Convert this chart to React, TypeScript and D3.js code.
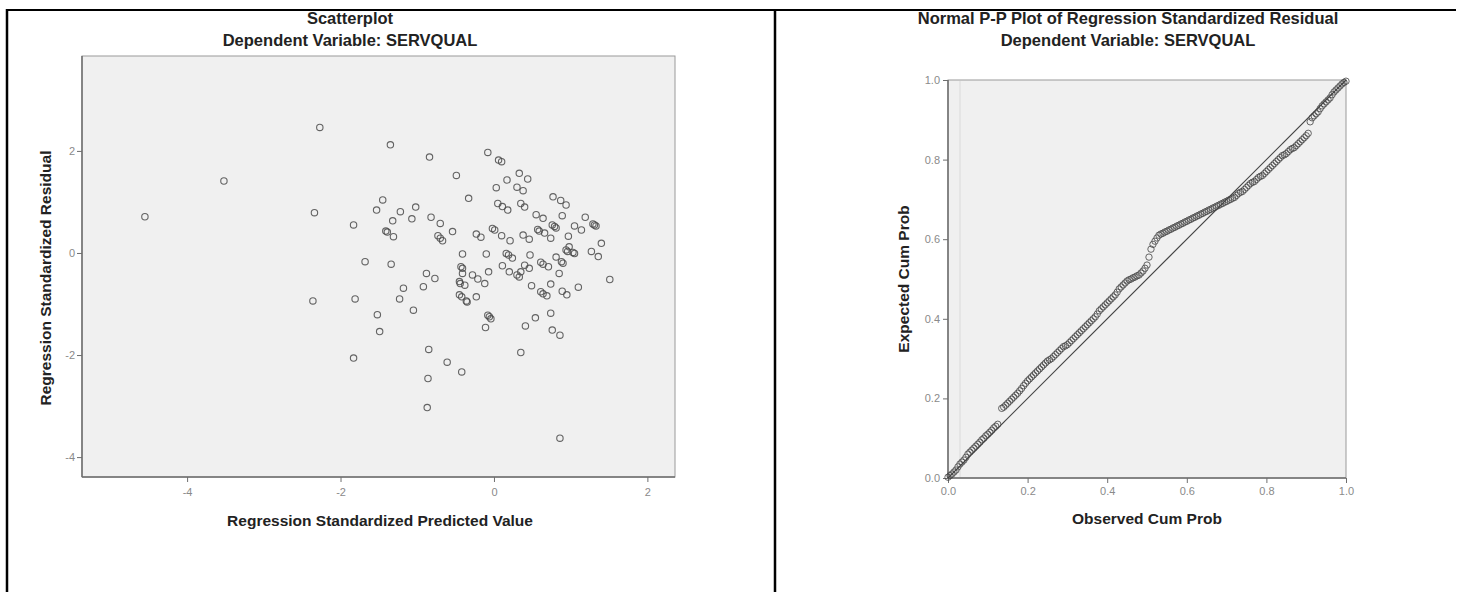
import React, { useEffect, useRef } from "react";
import * as d3 from "d3";

// Scatterplot: regression standardized predicted value vs residual
const predicted = [
  -4.55, -3.52, -2.27, -2.34, -2.36, -1.35, -1.83, -1.81, -1.83, -1.45, -1.53, -1.22, -1.32,
  -1.41, -1.39, -1.31, -1.68, -1.34, -0.84, -0.08, 0.06, 0.1, -0.49, 0.33, 0.44, 0.17, 0.03,
  0.3, 0.38, -0.33, 0.77, 0.87, 0.94, 0.05, 0.11, 0.18, 0.35, 0.4, -1.02, -1.07, -0.82, -0.7,
  -0.73, -0.67, -0.7, -0.54, -0.23, -0.17, -0.02, 0.01, 0.1, 0.21, 0.38, 0.46, 0.55, 0.64,
  0.89, 0.57, 0.59, 0.66, 0.76, 0.79, 0.81, 0.74, 0.97, 0.98, 0.94, 0.96, 1.03, 1.05, 1.05,
  1.14, 1.19, 1.29, 1.31, 1.33, 1.4, 1.27, 1.36, 1.51, -0.41, -0.1, 0.16, 0.19, 0.24, 0.47,
  0.61, 0.64, 0.71, 0.81, 0.88, 0.9, 0.85, -0.88, -0.77, -0.43, -0.41, -0.41, -0.28, -0.21,
  -0.07, 0.11, 0.2, 0.3, 0.33, 0.35, 0.4, 0.46, -0.45, -0.44, -0.38, -0.12, -1.18, -0.92,
  0.49, 0.61, 0.64, 0.69, 0.74, 0.89, 0.95, 1.1, -1.23, -1.05, -0.45, -0.42, -0.36, -0.35,
  -0.23, -1.52, -1.49, -0.08, -0.06, -0.04, -0.11, 0.74, 0.54, 0.41, 0.76, 0.86, 0.35, -0.85,
  -0.61, -0.42, -0.86, -0.87, 0.86,
];
const residual = [
  0.71, 1.41, 2.46, 0.79, -0.94, 2.12, 0.55, -0.9, -2.06, 1.04, 0.84, 0.81, 0.63, 0.43, 0.41,
  0.32, -0.17, -0.22, 1.88, 1.97, 1.82, 1.79, 1.52, 1.56, 1.45, 1.43, 1.28, 1.29, 1.22, 1.07,
  1.1, 1.03, 0.94, 0.97, 0.91, 0.84, 0.97, 0.9, 0.9, 0.67, 0.7, 0.58, 0.34, 0.24, 0.29, 0.42,
  0.37, 0.31, 0.48, 0.45, 0.34, 0.24, 0.35, 0.27, 0.75, 0.68, 0.73, 0.46, 0.43, 0.39, 0.55,
  0.52, 0.49, 0.29, 0.33, 0.12, 0.06, 0.03, 0.01, -0.01, 0.53, 0.45, 0.7, 0.57, 0.55, 0.53,
  0.19, 0.03, -0.07, -0.52, -0.02, -0.02, -0.01, -0.04, -0.1, -0.04, -0.18, -0.22, -0.27,
  -0.08, -0.17, -0.2, -0.4, -0.4, -0.5, -0.27, -0.3, -0.4, -0.43, -0.51, -0.37, -0.25, -0.37,
  -0.43, -0.47, -0.37, -0.24, -0.3, -0.56, -0.6, -0.63, -0.6, -0.69, -0.66, -0.64, -0.76,
  -0.8, -0.84, -0.61, -0.75, -0.82, -0.67, -0.9, -1.12, -0.82, -0.86, -0.94, -0.96, -0.86,
  -1.21, -1.54, -1.22, -1.25, -1.29, -1.46, -1.18, -1.27, -1.43, -1.51, -1.61, -1.95, -1.89,
  -2.14, -2.33, -2.46, -3.03, -3.63,
];

// Normal P-P plot (observed vs expected cumulative probability)
const observedCum = [
  0.0, 0.005, 0.01, 0.015, 0.02, 0.025, 0.03, 0.035, 0.04, 0.045, 0.05, 0.055, 0.06, 0.065,
  0.07, 0.075, 0.08, 0.085, 0.09, 0.095, 0.1, 0.105, 0.11, 0.115, 0.12, 0.125, 0.135, 0.14,
  0.145, 0.15, 0.155, 0.16, 0.165, 0.17, 0.175, 0.18, 0.185, 0.19, 0.195, 0.2, 0.205, 0.21,
  0.215, 0.22, 0.225, 0.23, 0.235, 0.24, 0.245, 0.25, 0.255, 0.26, 0.265, 0.27, 0.275, 0.28,
  0.285, 0.29, 0.295, 0.3, 0.305, 0.31, 0.315, 0.32, 0.325, 0.33, 0.335, 0.34, 0.345, 0.35,
  0.355, 0.36, 0.365, 0.37, 0.375, 0.38, 0.385, 0.39, 0.395, 0.4, 0.405, 0.41, 0.415, 0.42,
  0.425, 0.43, 0.435, 0.44, 0.445, 0.45, 0.455, 0.46, 0.465, 0.47, 0.475, 0.48, 0.485, 0.49,
  0.495, 0.5, 0.505, 0.51, 0.515, 0.52, 0.525, 0.53, 0.535, 0.54, 0.545, 0.55, 0.555, 0.56,
  0.565, 0.57, 0.575, 0.58, 0.585, 0.59, 0.595, 0.6, 0.605, 0.61, 0.615, 0.62, 0.625, 0.63,
  0.635, 0.64, 0.645, 0.65, 0.655, 0.66, 0.665, 0.67, 0.675, 0.68, 0.685, 0.69, 0.695, 0.7,
  0.705, 0.71, 0.715, 0.72, 0.725, 0.73, 0.735, 0.74, 0.745, 0.75, 0.755, 0.76, 0.765, 0.77,
  0.775, 0.78, 0.785, 0.79, 0.795, 0.8, 0.805, 0.81, 0.815, 0.82, 0.825, 0.83, 0.835, 0.84,
  0.845, 0.85, 0.855, 0.86, 0.865, 0.87, 0.875, 0.88, 0.885, 0.89, 0.895, 0.9, 0.905, 0.91,
  0.915, 0.92, 0.925, 0.93, 0.935, 0.94, 0.945, 0.95, 0.955, 0.96, 0.965, 0.97, 0.975, 0.98,
  0.985, 0.99, 0.995, 1.0,
];
const expectedCum = [
  0.002, 0.006, 0.01, 0.015, 0.02, 0.028, 0.035, 0.04, 0.045, 0.052, 0.06, 0.065, 0.07, 0.075,
  0.08, 0.085, 0.09, 0.096, 0.1, 0.106, 0.11, 0.115, 0.12, 0.126, 0.13, 0.135, 0.175, 0.178,
  0.183, 0.188, 0.193, 0.198, 0.203, 0.208, 0.213, 0.219, 0.225, 0.232, 0.238, 0.244, 0.249,
  0.254, 0.259, 0.264, 0.269, 0.274, 0.279, 0.284, 0.289, 0.294, 0.297, 0.3, 0.305, 0.31,
  0.315, 0.32, 0.325, 0.33, 0.332, 0.335, 0.34, 0.345, 0.35, 0.355, 0.36, 0.365, 0.37, 0.375,
  0.38, 0.385, 0.39, 0.395, 0.4, 0.405, 0.412, 0.42, 0.425, 0.43, 0.435, 0.44, 0.445, 0.45,
  0.455, 0.46, 0.467, 0.475, 0.48, 0.485, 0.49, 0.495, 0.498, 0.5, 0.503, 0.505, 0.508, 0.51,
  0.515, 0.52, 0.527, 0.535, 0.555, 0.575, 0.587, 0.595, 0.603, 0.61, 0.613, 0.615, 0.618,
  0.62, 0.623, 0.625, 0.628, 0.63, 0.633, 0.635, 0.638, 0.64, 0.643, 0.645, 0.648, 0.65, 0.653,
  0.655, 0.658, 0.66, 0.663, 0.665, 0.668, 0.67, 0.673, 0.675, 0.678, 0.68, 0.683, 0.685, 0.688,
  0.69, 0.693, 0.695, 0.698, 0.7, 0.703, 0.705, 0.71, 0.715, 0.718, 0.72, 0.725, 0.73, 0.735,
  0.74, 0.743, 0.745, 0.75, 0.755, 0.758, 0.76, 0.765, 0.77, 0.775, 0.78, 0.785, 0.79, 0.795,
  0.8, 0.805, 0.81, 0.812, 0.815, 0.82, 0.825, 0.828, 0.83, 0.835, 0.84, 0.845, 0.85, 0.855,
  0.86, 0.866, 0.895, 0.905, 0.91, 0.915, 0.92, 0.928, 0.935, 0.94, 0.945, 0.95, 0.955, 0.963,
  0.97, 0.975, 0.98, 0.985, 0.99, 0.994, 0.997,
];

const scatterTicks = [-4, -2, 0, 2];
const ppTicks = [0, 0.2, 0.4, 0.6, 0.8, 1.0];

const FONT = "'Liberation Sans', Arial, sans-serif";
const TITLE_SIZE = "16.5px";
const AXIS_TITLE_SIZE = "15.5px";

const App = () => {
  const svgRef = useRef<SVGSVGElement>(null);

  useEffect(() => {
    const svg = d3.select(svgRef.current);
    svg.selectAll("*").remove();

    // table borders
    svg.append("line").attr("x1", 6).attr("x2", 1456).attr("y1", 10).attr("y2", 10)
      .attr("stroke", "#000").attr("stroke-width", 2);
    [7, 775].forEach((x) => {
      svg.append("line").attr("x1", x).attr("x2", x).attr("y1", 9).attr("y2", 592)
        .attr("stroke", "#000").attr("stroke-width", 2.5);
    });

    const drawFrame = (x0, x1, y0, y1) => {
      svg.append("rect").attr("x", x0).attr("y", y0).attr("width", x1 - x0).attr("height", y1 - y0)
        .attr("fill", "#f0f0f0").attr("stroke", "#9a9a9a").attr("stroke-width", 1);
      svg.append("line").attr("x1", x0).attr("x2", x0).attr("y1", y0).attr("y2", y1)
        .attr("stroke", "#6e6e6e").attr("stroke-width", 1.5);
      svg.append("line").attr("x1", x0).attr("x2", x1).attr("y1", y1).attr("y2", y1)
        .attr("stroke", "#6e6e6e").attr("stroke-width", 1.5);
    };

    const styleAxis = (g) => {
      g.select(".domain").remove();
      g.selectAll(".tick line").attr("stroke", "#6e6e6e");
      g.selectAll(".tick text").attr("fill", "#8a8a8a").style("font-size", "11px")
        .style("font-family", FONT);
    };

    const titles = (cx, lines) => {
      lines.forEach((t, i) => {
        svg.append("text").attr("x", cx).attr("y", 24 + i * 22).attr("text-anchor", "middle")
          .style("font-family", FONT).style("font-weight", "bold").style("font-size", TITLE_SIZE)
          .attr("fill", "#222").text(t);
      });
    };

    const axisTitle = (x, y, text, rotate) => {
      svg.append("text")
        .attr("transform", `translate(${x},${y})${rotate ? " rotate(-90)" : ""}`)
        .attr("text-anchor", "middle")
        .style("font-family", FONT).style("font-weight", "bold").style("font-size", AXIS_TITLE_SIZE)
        .attr("fill", "#222").text(text);
    };

    // ---- Scatterplot ----
    const xS = d3.scaleLinear().domain([-5.37, 2.36]).range([82, 675]);
    const yS = d3.scaleLinear().domain([-4.39, 3.86]).range([477, 56]);
    drawFrame(82, 675, 56, 477);
    titles(350, ["Scatterplot", "Dependent Variable: SERVQUAL"]);

    svg.append("g").attr("transform", "translate(0,477)")
      .call(d3.axisBottom(xS).tickValues(scatterTicks).tickSize(5).tickPadding(6).tickFormat((d) => String(d)))
      .call(styleAxis);
    svg.append("g").attr("transform", "translate(82,0)")
      .call(d3.axisLeft(yS).tickValues(scatterTicks).tickSize(5).tickPadding(2).tickFormat((d) => String(d)))
      .call(styleAxis);

    svg.append("g").selectAll("circle")
      .data(predicted.map((p, i) => [p, residual[i]]))
      .join("circle")
      .attr("cx", (d) => xS(d[0]))
      .attr("cy", (d) => yS(d[1]))
      .attr("r", 3.2)
      .attr("fill", "none")
      .attr("stroke", "#4a4a4a")
      .attr("stroke-opacity", 0.85)
      .attr("stroke-width", 1.1);

    axisTitle(380, 526, "Regression Standardized Predicted Value", false);
    axisTitle(51, 278, "Regression Standardized Residual", true);

    // ---- Normal P-P Plot ----
    const xP = d3.scaleLinear().domain([0, 1]).range([948, 1346]);
    const yP = d3.scaleLinear().domain([0, 1]).range([478, 80]);
    drawFrame(948, 1346, 80, 478);
    svg.append("line").attr("x1", 960).attr("x2", 960).attr("y1", 81).attr("y2", 477)
      .attr("stroke", "#dadada").attr("stroke-width", 1);
    titles(1128, ["Normal P-P Plot of Regression Standardized Residual", "Dependent Variable: SERVQUAL"]);

    svg.append("g").attr("transform", "translate(0,478)")
      .call(d3.axisBottom(xP).tickValues(ppTicks).tickSize(5).tickPadding(4).tickFormat(d3.format(".1f")))
      .call(styleAxis);
    svg.append("g").attr("transform", "translate(948,0)")
      .call(d3.axisLeft(yP).tickValues(ppTicks).tickSize(5).tickPadding(3).tickFormat(d3.format(".1f")))
      .call(styleAxis);

    svg.append("line")
      .attr("x1", xP(0)).attr("y1", yP(0)).attr("x2", xP(1)).attr("y2", yP(1))
      .attr("stroke", "#444").attr("stroke-width", 1.2);

    svg.append("g").selectAll("circle")
      .data(observedCum.map((o, i) => [o, expectedCum[i]]))
      .join("circle")
      .attr("cx", (d) => xP(d[0]))
      .attr("cy", (d) => yP(d[1]))
      .attr("r", 3.2)
      .attr("fill", "none")
      .attr("stroke", "#444")
      .attr("stroke-opacity", 0.8)
      .attr("stroke-width", 1);

    axisTitle(1147, 524, "Observed Cum Prob", false);
    axisTitle(909, 279, "Expected Cum Prob", true);
  }, []);

  return (
    <svg
      ref={svgRef}
      width={1462}
      height={592}
      style={{ position: "absolute", left: 0, top: 0, background: "#fff" }}
    />
  );
};

export default App;
